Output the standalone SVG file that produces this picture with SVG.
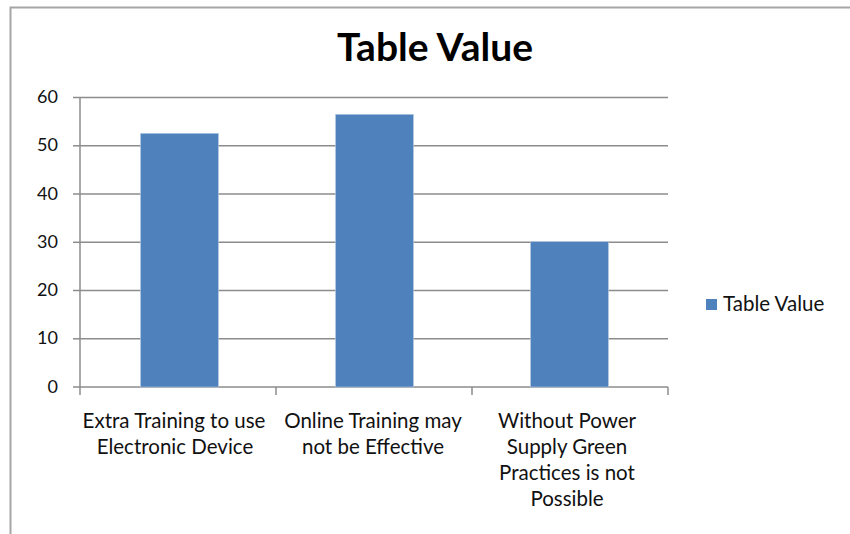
<svg xmlns="http://www.w3.org/2000/svg" width="850" height="534" viewBox="0 0 850 534">
<style>
.grid{stroke:#8c8c8c;stroke-width:1.5;fill:none}
.axis{stroke:#8c8c8c;stroke-width:1.5;fill:none}
.bar{fill:#4f81bd;stroke:#b9cde5;stroke-width:0.6}
.ylab{font-family:Lato,"Liberation Sans",sans-serif;font-size:18px;fill:#111;text-anchor:end}
.xlab{font-family:Lato,"Liberation Sans",sans-serif;font-size:20.5px;fill:#111;text-anchor:middle}
.title{font-family:Lato,"Liberation Sans",sans-serif;font-size:39px;font-weight:bold;fill:#000;text-anchor:middle}
.leg{font-family:Lato,"Liberation Sans",sans-serif;font-size:20.5px;fill:#111}
</style>
<rect width="850" height="534" fill="#fff"/>
<path d="M10.5,534 V7.5 H850" stroke="#a6a6a6" stroke-width="2" fill="none"/>
<text class="title" x="435" y="61">Table Value</text>
<g id="gridlines">
<line class="grid" x1="80" y1="97.5" x2="668" y2="97.5"/>
<line class="grid" x1="80" y1="145.8" x2="668" y2="145.8"/>
<line class="grid" x1="80" y1="194" x2="668" y2="194"/>
<line class="grid" x1="80" y1="242.3" x2="668" y2="242.3"/>
<line class="grid" x1="80" y1="290.5" x2="668" y2="290.5"/>
<line class="grid" x1="80" y1="338.8" x2="668" y2="338.8"/>
</g>
<g id="axes">
<line class="axis" x1="80" y1="97.5" x2="80" y2="387"/>
<line class="axis" x1="73" y1="387" x2="668" y2="387"/>
<line class="axis" x1="73" y1="97.5" x2="80" y2="97.5"/>
<line class="axis" x1="73" y1="145.8" x2="80" y2="145.8"/>
<line class="axis" x1="73" y1="194" x2="80" y2="194"/>
<line class="axis" x1="73" y1="242.3" x2="80" y2="242.3"/>
<line class="axis" x1="73" y1="290.5" x2="80" y2="290.5"/>
<line class="axis" x1="73" y1="338.8" x2="80" y2="338.8"/>
<line class="axis" x1="80" y1="387" x2="80" y2="395"/>
<line class="axis" x1="276" y1="387" x2="276" y2="395"/>
<line class="axis" x1="472" y1="387" x2="472" y2="395"/>
<line class="axis" x1="668" y1="387" x2="668" y2="395"/>
</g>
<g id="ylabels">
<text class="ylab" x="58" y="103">60</text>
<text class="ylab" x="58" y="151">50</text>
<text class="ylab" x="58" y="199.5">40</text>
<text class="ylab" x="58" y="248">30</text>
<text class="ylab" x="58" y="296">20</text>
<text class="ylab" x="58" y="344">10</text>
<text class="ylab" x="58" y="393">0</text>
</g>
<g id="bar1"><rect class="bar" x="140.5" y="133.3" width="78" height="253.7"/></g>
<g id="bar2"><rect class="bar" x="335.5" y="114.3" width="78" height="272.7"/></g>
<g id="bar3"><rect class="bar" x="530.5" y="241.7" width="78" height="145.3"/></g>
<g id="xlabels">
<text class="xlab" x="174" y="428">Extra Training to use</text>
<text class="xlab" x="175" y="454">Electronic Device</text>
<text class="xlab" x="373" y="428">Online Training may</text>
<text class="xlab" x="373" y="454">not be Effective</text>
<text class="xlab" x="567" y="428">Without Power</text>
<text class="xlab" x="567" y="454">Supply Green</text>
<text class="xlab" x="567" y="480">Practices is not</text>
<text class="xlab" x="567" y="506">Possible</text>
</g>
<g id="legend">
<rect x="706" y="299" width="11" height="11" fill="#4f81bd"/>
<text class="leg" x="723" y="311">Table Value</text>
</g>
</svg>
